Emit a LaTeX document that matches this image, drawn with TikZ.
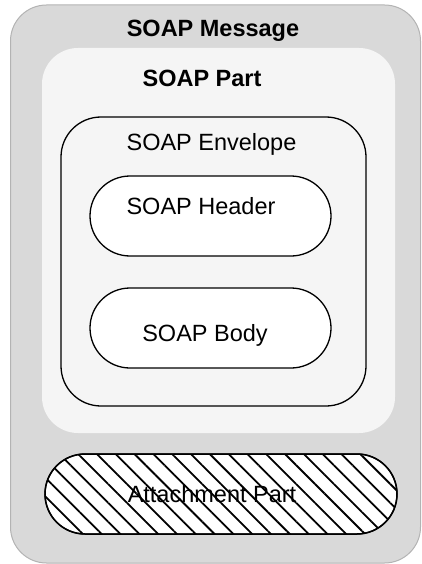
\documentclass[tikz,border=0pt]{standalone}
\usepackage{fontspec}
\setmainfont{Liberation Sans}
\usetikzlibrary{patterns.meta}
\definecolor{msgfill}{HTML}{D9D9D9}
\definecolor{msgline}{HTML}{B3B3B3}
\definecolor{partfill}{HTML}{F5F5F5}
\begin{document}
\begin{tikzpicture}[x=1pt,y=-1pt,
  box/.style={rectangle,inner sep=0pt,outer sep=0pt,line width=1.3pt},
  pill/.style={box,draw=black,fill=white,rounded corners=40pt,
    minimum width=241pt,minimum height=80pt},
  lbl/.style={anchor=base,inner sep=0pt,font=\fontsize{23.5}{28}\selectfont},
  blbl/.style={lbl,font=\fontsize{23.5}{28}\selectfont\bfseries}]
\useasboundingbox (0,0) rectangle (421,564);
% outer message container
\node[box,draw=msgline,line width=1pt,fill=msgfill,rounded corners=36pt,
  minimum width=410pt,minimum height=558pt] (msg) at (215.5,284) {};
% SOAP part panel
\node[box,fill=partfill,rounded corners=36pt,
  minimum width=353pt,minimum height=385pt] (part) at (218.5,240.5) {};
% envelope
\node[box,draw=black,rounded corners=40pt,
  minimum width=305pt,minimum height=289pt] (env) at (213.5,261.5) {};
% header and body
\node[pill] (hdr) at (210.5,216) {};
\node[pill] (body) at (210.5,328) {};
% attachment part, hatched
\node[box,draw=black,fill=white,rounded corners=40pt,
  minimum width=352pt,minimum height=80pt] (att) at (221,494) {};
\node[box,rounded corners=40pt,
  pattern={Lines[angle=-45,distance=13.3pt,line width=1.8pt]},
  minimum width=352pt,minimum height=80pt] (atthatch) at (att) {};
\node[box,draw=black,line width=1.5pt,rounded corners=40pt,
  minimum width=352pt,minimum height=80pt] (attrim) at (att) {};
% labels
\node[blbl] (tmsg) at (213,37) {SOAP Message};
\node[blbl] (tpart) at (202,87) {SOAP Part};
\node[lbl] (tenv) at (211.5,150) {SOAP Envelope};
\node[lbl] (thdr) at (201,214) {SOAP Header};
\node[lbl] (tbody) at (205,341) {SOAP Body};
\node[lbl] (tatt) at (212,502) {Attachment Part};
\end{tikzpicture}
\end{document}
